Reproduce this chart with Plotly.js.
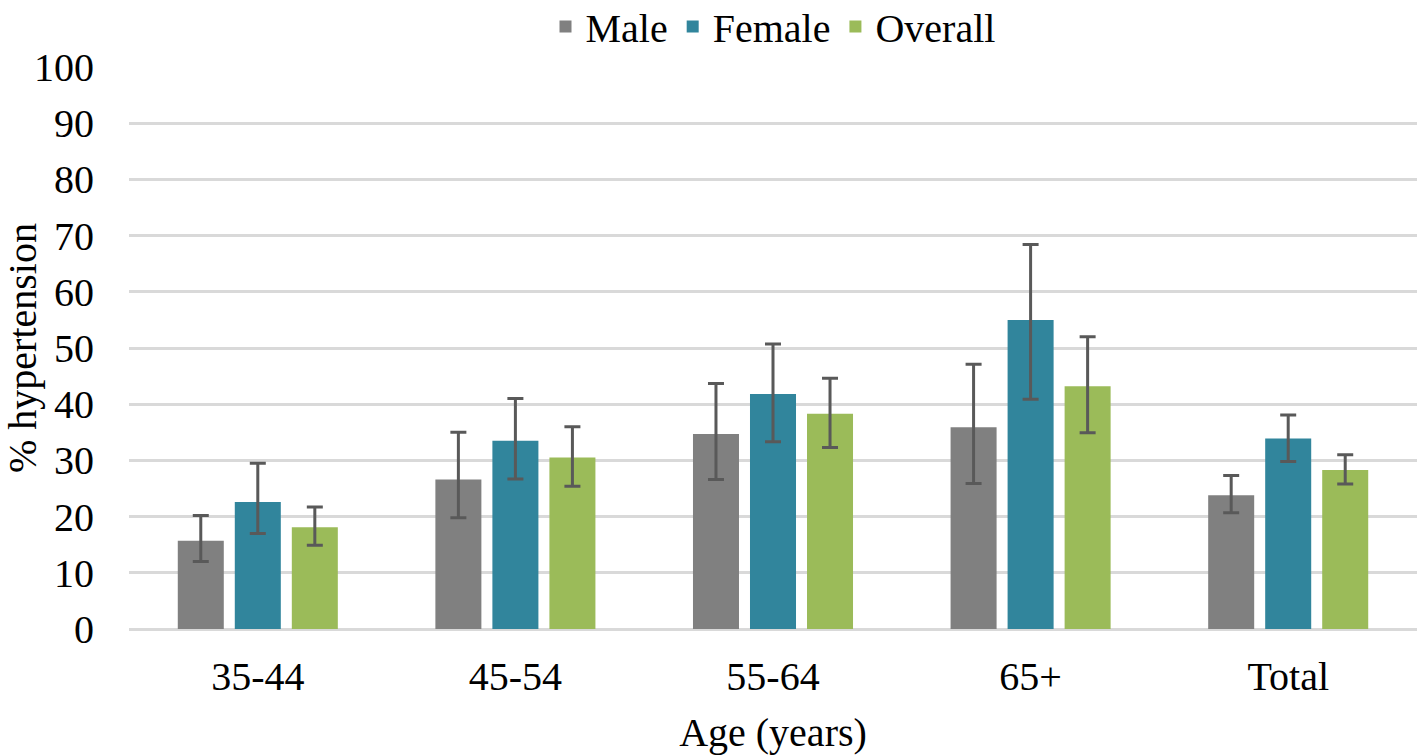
<!DOCTYPE html>
<html>
<head>
<meta charset="utf-8">
<script src="https://cdn.plot.ly/plotly-3.0.1.min.js"></script>
<style>html,body{margin:0;padding:0;background:#fff;}#chart{width:1417px;height:755px;}</style>
</head>
<body>
<div id="chart"></div>
<script>
const categories = ["35-44", "45-54", "55-64", "65+", "Total"];
const male = [15.7, 26.6, 34.7, 35.9, 23.8];
const maleHigh = [20.2, 35.0, 43.7, 47.1, 27.3];
const maleLow = [12.0, 19.8, 26.6, 25.9, 20.7];
const female = [22.6, 33.5, 41.8, 55.0, 33.9];
const femaleHigh = [29.5, 41.0, 50.7, 68.4, 38.1];
const femaleLow = [17.0, 26.7, 33.3, 40.9, 29.8];
const overall = [18.1, 30.5, 38.3, 43.2, 28.3];
const overallHigh = [21.7, 36.0, 44.6, 52.0, 31.0];
const overallLow = [14.9, 25.4, 32.3, 34.9, 25.8];
const yTicks = [0, 10, 20, 30, 40, 50, 60, 70, 80, 90, 100];

function err(vals, hi, lo) {
  return {
    type: 'data', symmetric: false,
    array: hi.map((h, i) => h - vals[i]),
    arrayminus: lo.map((l, i) => vals[i] - l),
    color: '#595959', thickness: 3, width: 8
  };
}

const font = 'Liberation Serif';
const fs = 40;
const traces = [
  {type: 'bar', name: 'Male', x: categories, y: male, marker: {color: '#808080'}, error_y: err(male, maleHigh, maleLow)},
  {type: 'bar', name: 'Female', x: categories, y: female, marker: {color: '#31859c'}, error_y: err(female, femaleHigh, femaleLow)},
  {type: 'bar', name: 'Overall', x: categories, y: overall, marker: {color: '#9bbb59'}, error_y: err(overall, overallHigh, overallLow)}
];

const layout = {
  width: 1417, height: 755,
  margin: {l: 129, r: 0, t: 67, b: 126, autoexpand: false},
  paper_bgcolor: '#fff', plot_bgcolor: '#fff',
  font: {family: font, size: fs, color: '#000'},
  barmode: 'group', bargap: 0.336, bargroupgap: 0.193,
  showlegend: true,
  legend: {orientation: 'h', x: 0.5, xanchor: 'center', xref: 'paper', y: 1.13, yanchor: 'top', font: {family: font, size: fs, color: '#000'}, itemwidth: 30, tracegroupgap: 0},
  xaxis: {
    type: 'category', showgrid: false, zeroline: false, showline: false, automargin: false,
    ticks: '', ticklabelstandoff: 20,
    tickfont: {family: font, size: fs, color: '#000'},
    title: {text: 'Age (years)', font: {family: font, size: fs, color: '#000'}, standoff: 20}
  },
  yaxis: {
    range: [0, 100], tickmode: 'array', tickvals: yTicks, ticktext: yTicks.map(String), automargin: false,
    showgrid: true, gridcolor: '#d9d9d9', gridwidth: 3,
    zeroline: true, zerolinecolor: '#d9d9d9', zerolinewidth: 3,
    showline: false, ticks: '', ticklabelstandoff: 34,
    tickfont: {family: font, size: fs, color: '#000'},
    title: {text: '% hypertension', font: {family: font, size: fs, color: '#000'}, standoff: 4}
  }
};

Plotly.newPlot('chart', traces, layout, {displayModeBar: false, staticPlot: true});
</script>
</body>
</html>
